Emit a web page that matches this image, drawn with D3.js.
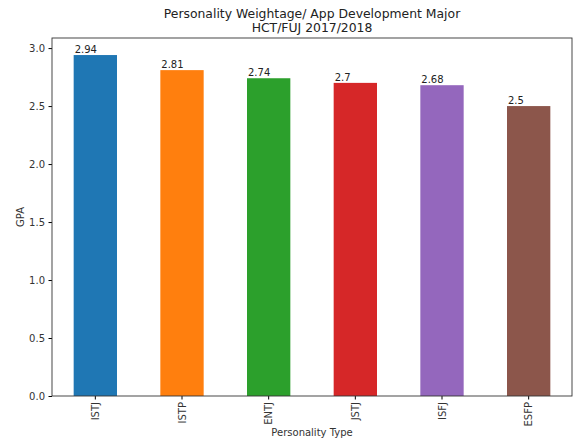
<!DOCTYPE html>
<html>
<head>
<meta charset="utf-8">
<script src="https://cdn.jsdelivr.net/npm/d3@7"></script>
<style>
  body { margin: 0; background: #fff; }
  text { font-family: "DejaVu Sans", sans-serif; }
</style>
</head>
<body>
<div id="chart"></div>
<script>
var categories = ["ISTJ", "ISTP", "ENTJ", "JSTJ", "ISFJ", "ESFP"];
var gpa = [2.94, 2.81, 2.74, 2.7, 2.68, 2.5];
var colors = ["#1f77b4", "#ff7f0e", "#2ca02c", "#d62728", "#9467bd", "#8c564b"];
var yTicks = [0.0, 0.5, 1.0, 1.5, 2.0, 2.5, 3.0];

var W = 576, H = 441;
var margin = { top: 38, right: 4, bottom: 45, left: 52 };
var width = W - margin.left - margin.right;
var height = H - margin.top - margin.bottom;

var svg = d3.select("#chart").append("svg")
  .attr("width", W)
  .attr("height", H);

var g = svg.append("g")
  .attr("transform", "translate(" + margin.left + "," + margin.top + ")");

// x scale: bands like matplotlib bar(width=0.5)
var x = d3.scaleBand()
  .domain(categories)
  .range([0, width])
  .paddingInner(0.5)
  .paddingOuter(0.25);

var y = d3.scaleLinear()
  .domain([0, d3.max(gpa) * 1.05])
  .range([height, 0]);

// bars
g.selectAll(".bar")
  .data(categories)
  .enter()
  .append("rect")
  .attr("class", "bar")
  .attr("x", function (d) { return x(d); })
  .attr("width", x.bandwidth())
  .attr("y", function (d, i) { return y(gpa[i]); })
  .attr("height", function (d, i) { return height - y(gpa[i]); })
  .attr("fill", function (d, i) { return colors[i]; });

// value labels
g.selectAll(".val")
  .data(categories)
  .enter()
  .append("text")
  .attr("class", "val")
  .attr("x", function (d) { return x(d) + 1; })
  .attr("y", function (d, i) { return y(gpa[i]) - 2; })
  .attr("font-size", "10px")
  .attr("fill", "#222")
  .text(function (d, i) { return String(gpa[i]); });

// y axis
var yAxis = g.append("g")
  .call(d3.axisLeft(y).tickValues(yTicks).tickFormat(d3.format(".1f")).tickSize(3.5).tickPadding(3.5));
yAxis.selectAll("text").attr("font-size", "10px").attr("fill", "#333").style("font-family", "DejaVu Sans");
yAxis.select(".domain").remove();

// x axis
var xAxis = g.append("g")
  .attr("transform", "translate(0," + height + ")")
  .call(d3.axisBottom(x).tickSize(3.5).tickPadding(3.5));
xAxis.select(".domain").remove();
xAxis.selectAll("text")
  .attr("font-size", "10px")
  .attr("fill", "#333")
  .style("font-family", "DejaVu Sans")
  .attr("transform", "rotate(-90)")
  .attr("text-anchor", "end")
  .attr("x", -6)
  .attr("y", 0)
  .attr("dy", "0.35em");

// spines
g.append("rect")
  .attr("x", 0).attr("y", 0)
  .attr("width", width).attr("height", height)
  .attr("fill", "none")
  .attr("stroke", "#333")
  .attr("stroke-width", 0.9);

// titles
svg.append("text")
  .attr("x", margin.left + width / 2).attr("y", 17.5)
  .attr("text-anchor", "middle").attr("font-size", "12.4px").attr("fill", "#222")
  .text("Personality Weightage/ App Development Major");
svg.append("text")
  .attr("x", margin.left + width / 2).attr("y", 31.5)
  .attr("text-anchor", "middle").attr("font-size", "12.4px").attr("fill", "#222")
  .text("HCT/FUJ 2017/2018");

// axis labels
svg.append("text")
  .attr("x", margin.left + width / 2).attr("y", 436)
  .attr("text-anchor", "middle").attr("font-size", "10px").attr("fill", "#333")
  .text("Personality Type");
svg.append("text")
  .attr("transform", "translate(24," + (margin.top + height / 2) + ") rotate(-90)")
  .attr("text-anchor", "middle").attr("font-size", "10px").attr("fill", "#333")
  .text("GPA");
</script>
</body>
</html>
